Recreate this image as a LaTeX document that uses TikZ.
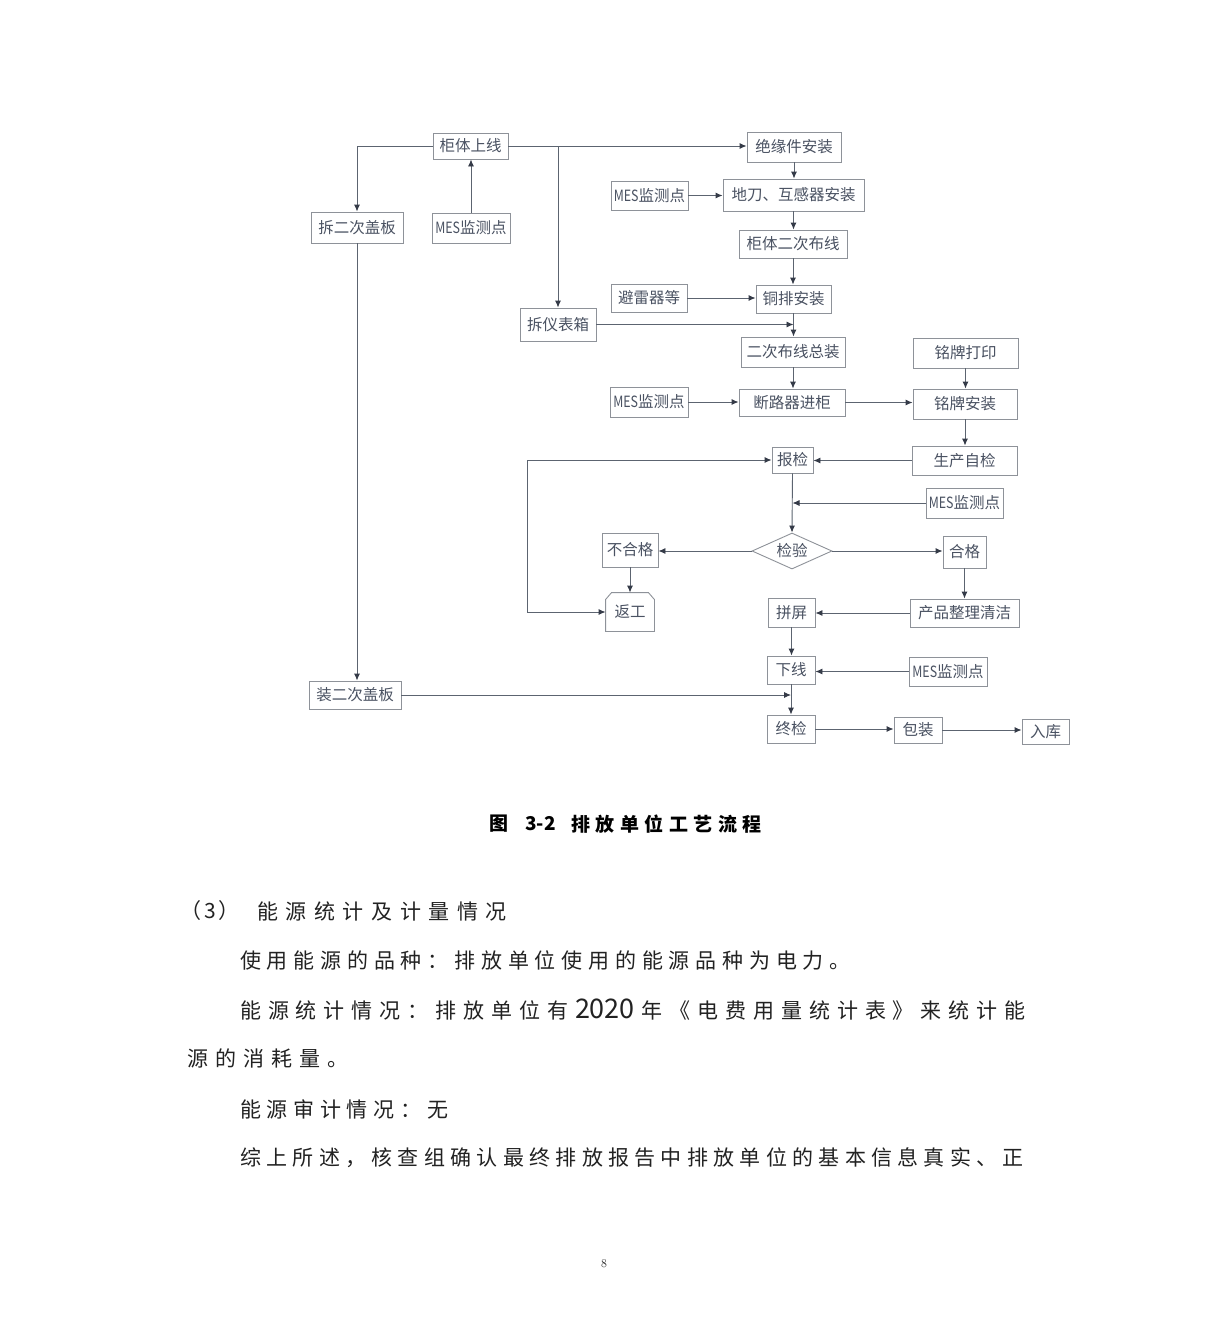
\documentclass[tikz,border=0pt]{standalone}
\usepackage{fontspec}
\newfontfamily\cjk{Noto Sans CJK SC}
\usetikzlibrary{arrows.meta,shapes.geometric,calc}
\definecolor{linec}{HTML}{5C6470}
\definecolor{tipc}{HTML}{353B48}
\definecolor{boxc}{HTML}{8E9299}
\definecolor{txtc}{HTML}{4A5262}
\definecolor{bodyc}{HTML}{222222}
\makeatletter
\def\spc@end{spc@end@marker}
\def\spc@loop#1{\ifx\spc@end#1\else#1\hskip\spc@gap\relax\expandafter\spc@loop\fi}
\newcommand\spacedtext[2]{\def\spc@gap{#1}\spc@loop#2\spc@end}
\makeatother
\newcommand\mes{{\scalebox{0.8}[1]{MES}}监测点}
\newcommand\yrtwenty{{\fontsize{27}{28}\selectfont 2020}}
\begin{document}
\begin{tikzpicture}[x=1pt,y=-1pt,
  box/.style={draw=boxc, line width=0.9pt, text=txtc, inner sep=0pt,
    font=\cjk\fontsize{15.5}{16}\selectfont},
  arr/.style={draw=linec, line width=0.9pt, -{Latex[length=7pt,width=6pt,color=tipc]}},
  arrb/.style={draw=linec, line width=0.9pt, {Latex[length=7pt,width=6pt,color=tipc]}-{Latex[length=7pt,width=6pt,color=tipc]}},
  body/.style={anchor=west, inner sep=0pt, text=bodyc, font=\cjk\fontsize{21}{22}\selectfont},
  captxt/.style={anchor=west, inner sep=0pt, text=black, font=\cjk\bfseries\fontsize{19}{20}\selectfont}]

\useasboundingbox[fill=white] (0,0) rectangle (1208,1334);

% ---- boxes ----
\node[box, minimum width=75pt, minimum height=26pt] (gt) at (470.5,146) {柜体上线};
\node[box, minimum width=92pt, minimum height=31pt] (c2) at (357,227.5) {拆二次盖板};
\node[box, minimum width=78pt, minimum height=30pt] (mes1) at (471,228) {\mes};
\node[box, minimum width=94pt, minimum height=30pt] (jyj) at (794,147) {绝缘件安装};
\node[box, minimum width=77pt, minimum height=29pt] (mes2) at (649.5,195.5) {\mes};
\node[box, minimum width=141pt, minimum height=32pt] (dd) at (793.5,195) {地刀、互感器安装};
\node[box, minimum width=108pt, minimum height=28pt] (gt2) at (793,244) {柜体二次布线};
\node[box, minimum width=76pt, minimum height=28pt] (blq) at (649,298) {避雷器等};
\node[box, minimum width=75pt, minimum height=28pt] (tp) at (793.5,299) {铜排安装};
\node[box, minimum width=76pt, minimum height=33pt] (cyb) at (558,324.5) {拆仪表箱};
\node[box, minimum width=104pt, minimum height=30pt] (zz) at (793,352) {二次布线总装};
\node[box, minimum width=78pt, minimum height=30pt] (mes3) at (649,402) {\mes};
\node[box, minimum width=106pt, minimum height=27pt] (dlq) at (792,402.5) {断路器进柜};
\node[box, minimum width=105pt, minimum height=30pt] (mpd) at (965.5,353) {铭牌打印};
\node[box, minimum width=104pt, minimum height=30pt] (mpa) at (965,404) {铭牌安装};
\node[box, minimum width=105pt, minimum height=29pt] (sc) at (964.5,460.5) {生产自检};
\node[box, minimum width=41pt, minimum height=26pt] (bj) at (792.5,460) {报检};
\node[box, minimum width=77pt, minimum height=30pt] (mes4) at (964.5,503) {\mes};
\node[box, diamond, aspect=2.2, minimum width=80pt, minimum height=36pt] (jy) at (792,551) {检验};
\node[box, minimum width=56pt, minimum height=34pt] (bhg) at (630,550) {不合格};
\node[box, minimum width=43pt, minimum height=32pt] (hg) at (964.5,552) {合格};
\node[box, draw=none, minimum width=48pt, minimum height=38pt] (fg) at (630,612) {返工};
\draw[draw=boxc, line width=0.9pt] (fg.south west) -- ($(fg.north west)+(0,7)$) -- ($(fg.north west)+(6,0)$)
  -- ($(fg.north east)+(-6,0)$) -- ($(fg.north east)+(0,7)$) -- (fg.south east) -- cycle;
\node[box, minimum width=47pt, minimum height=29pt] (pp) at (791.5,612.5) {拼屏};
\node[box, minimum width=109pt, minimum height=28pt] (cp) at (964.5,613) {产品整理清洁};
\node[box, minimum width=48pt, minimum height=28pt] (xx) at (791,670) {下线};
\node[box, minimum width=78pt, minimum height=29pt] (mes5) at (948,671.5) {\mes};
\node[box, minimum width=92pt, minimum height=28pt] (c3) at (355,695) {装二次盖板};
\node[box, minimum width=48pt, minimum height=28pt] (zj) at (791,729) {终检};
\node[box, minimum width=48pt, minimum height=26pt] (bz) at (918,730) {包装};
\node[box, minimum width=47pt, minimum height=25pt] (rk) at (1045.5,731.5) {入库};

% ---- connectors ----
\draw[arr] (gt.west) -| (c2.north);
\draw[arr] (mes1.north) -- (mes1.north |- gt.south);
\draw[arr] (gt.east) -- (gt.east -| jyj.west);
\coordinate (br1) at (558,146);
\draw[arr] (br1) -- (cyb.north);
\draw[arr] (jyj.south) -- (jyj.south |- dd.north);
\draw[arr] (mes2.east) -- (mes2.east -| dd.west);
\draw[arr] (dd.south) -- (dd.south |- gt2.north);
\draw[arr] (gt2.south) -- (gt2.south |- tp.north);
\draw[arr] (blq.east) -- (blq.east -| tp.west);
\draw[arr] (tp.south) -- (tp.south |- zz.north);
\draw[arr] (cyb.east) -- (cyb.east -| tp.south);
\draw[arr] (zz.south) -- (zz.south |- dlq.north);
\draw[arr] (mes3.east) -- (mes3.east -| dlq.west);
\draw[arr] (dlq.east) -- (dlq.east -| mpa.west);
\draw[arr] (mpd.south) -- (mpd.south |- mpa.north);
\draw[arr] (mpa.south) -- (mpa.south |- sc.north);
\draw[arr] (sc.west) -- (sc.west -| bj.east);
\draw[arr] (bj.south) -- (jy.north);
\draw[arr] (mes4.west) -- (mes4.west -| bj.south);
\draw[arr] (jy.west) -- (jy.west -| bhg.east);
\draw[arr] (jy.east) -- (jy.east -| hg.west);
\draw[arr] (bhg.south) -- (fg.north);
\coordinate (lpb) at (527,612);
\coordinate (lpt) at (527,460);
\draw[arrb] (fg.west) -- (lpb) -- (lpt) -- (bj.west);
\draw[arr] (hg.south) -- (hg.south |- cp.north);
\draw[arr] (cp.west) -- (cp.west -| pp.east);
\draw[arr] (pp.south) -- (pp.south |- xx.north);
\draw[arr] (mes5.west) -- (mes5.west -| xx.east);
\draw[arr] (xx.south) -- (xx.south |- zj.north);
\draw[arr] (c3.east) -- (c3.east -| xx.south);
\draw[arr] (c2.south) -- (c2.south |- c3.north);
\draw[arr] (zj.east) -- (zj.east -| bz.west);
\draw[arr] (bz.east) -- (bz.east -| rk.west);

% ---- caption ----
\node[captxt] (cap1) at (489,824) {图};
\node[captxt] (cap2) at (525,824) {3-2};
\node[captxt] (cap3) at (571,824) {\spacedtext{5.5pt}{排放单位工艺流程}};

% ---- body text ----
\node[body] (t1a) at (180,911) {\spacedtext{3pt}{（3）}};
\node[body] (t1b) at (257,911) {\spacedtext{7.6pt}{能源统计及计量情况}};
\node[body] (t2) at (240,960) {\spacedtext{5.8pt}{使用能源的品种：排放单位使用的能源品种为电力。}};
\node[body] (t3) at (240,1010) {\spacedtext{6.9pt}{能源统计情况：排放单位有\yrtwenty 年《电费用量统计表》来统计能}};
\node[body] (t4) at (187,1058) {\spacedtext{7pt}{源的消耗量。}};
\node[body] (t5) at (240,1109) {\spacedtext{5.7pt}{能源审计情况：无}};
\node[body] (t6) at (240,1158) {\spacedtext{5.3pt}{综上所述，核查组确认最终排放报告中排放单位的基本信息真实、正}};

\node[font=\fontsize{12}{14}\selectfont, text=bodyc] (pg) at (604,1264) {8};
\end{tikzpicture}
\end{document}
